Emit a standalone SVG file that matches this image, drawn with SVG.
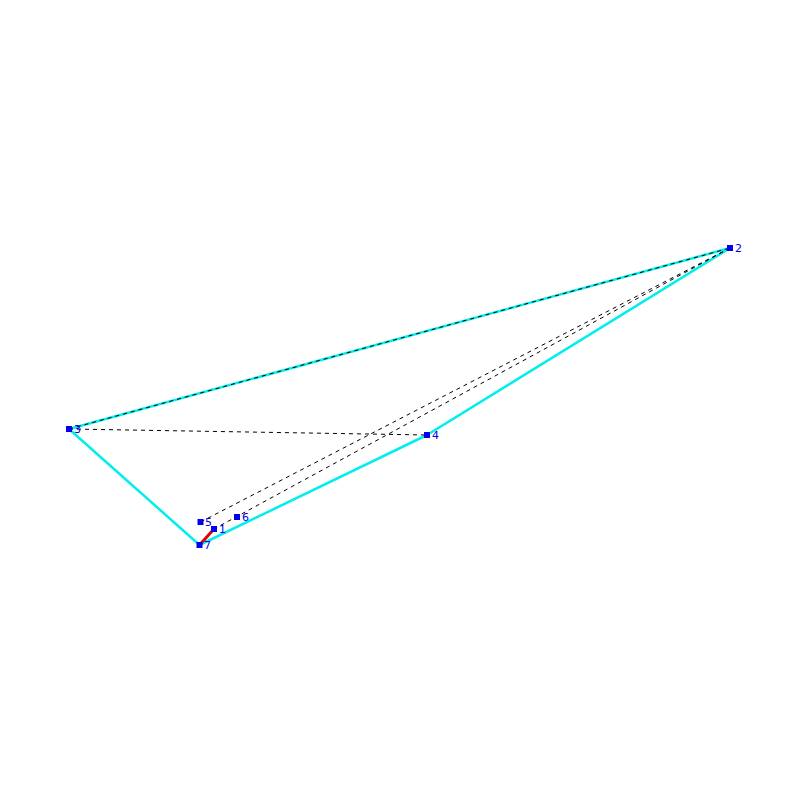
<svg xmlns="http://www.w3.org/2000/svg" width="800" height="800" viewBox="0 0 800 800">
<style>
.edge{stroke:#00eeee;stroke-width:2.5;fill:none}
.dash{stroke:#000;stroke-width:1;stroke-dasharray:4,4;fill:none}
.red{stroke:#e00000;stroke-width:3;fill:none}
.n rect{fill:#0000ee}
.n text{fill:#0000ee;font-family:"DejaVu Sans",sans-serif;font-size:11px}
</style>
<rect width="800" height="800" fill="#fff"/>
<g id="connectors">
<line class="edge" x1="69" y1="429" x2="730" y2="248"/>
<line class="edge" x1="69" y1="429" x2="199.5" y2="545"/>
<line class="edge" x1="199.5" y1="545" x2="427" y2="435"/>
<line class="edge" x1="427" y1="435" x2="730" y2="248"/>
<line class="dash" x1="69" y1="429" x2="730" y2="248"/>
<line class="dash" x1="69" y1="429" x2="427" y2="435"/>
<line class="dash" x1="730" y1="248" x2="200.5" y2="522"/>
<line class="dash" x1="730" y1="248" x2="214" y2="529"/>
<line class="red" x1="199.5" y1="545" x2="214" y2="529"/>
</g>
<g id="node1" class="n"><rect x="211" y="526" width="6" height="6"/><text x="219" y="533">1</text></g>
<g id="node2" class="n"><rect x="727" y="245" width="6" height="6"/><text x="735" y="252">2</text></g>
<g id="node3" class="n"><rect x="66" y="426" width="6" height="6"/><text x="74" y="433">3</text></g>
<g id="node4" class="n"><rect x="424" y="432" width="6" height="6"/><text x="432" y="439">4</text></g>
<g id="node5" class="n"><rect x="197.5" y="519" width="6" height="6"/><text x="205" y="526">5</text></g>
<g id="node6" class="n"><rect x="234" y="514" width="6" height="6"/><text x="242" y="521">6</text></g>
<g id="node7" class="n"><rect x="196.5" y="542" width="6" height="6"/><text x="204" y="549">7</text></g>
</svg>
